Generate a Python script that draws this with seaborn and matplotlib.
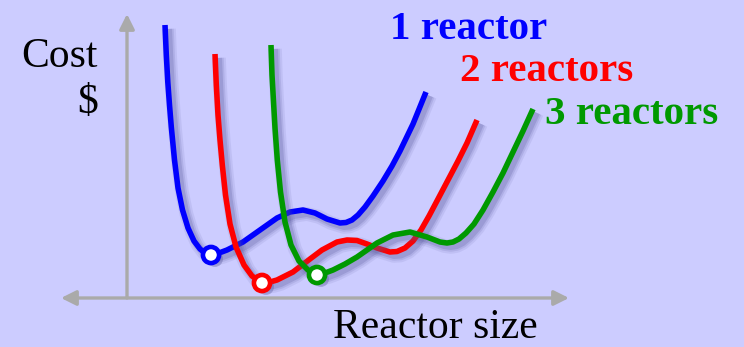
import matplotlib
matplotlib.use("Agg")
import matplotlib.pyplot as plt
import matplotlib.patheffects as pe
import pandas as pd
import seaborn as sns

# Cost curves versus reactor size (arbitrary units, origin at the axes corner)
blue_size = [38, 39.3, 40.8, 42.5, 44.3, 47.5, 51, 55.5, 61, 67, 73, 78, 84, 92, 100, 116, 133,
             150, 163, 176, 188, 200, 213, 219, 225, 231, 238, 246, 256, 265, 273, 286, 299]
blue_cost = [273, 243, 216, 193, 171, 138, 110, 88, 70, 57, 49, 45, 43, 45, 48, 56, 68,
             80, 86, 88, 85, 79, 75, 75.5, 78, 83, 91, 102, 117, 132, 147, 174, 206]

red_size = [88, 89.3, 91, 93, 95.3, 98.5, 103, 109, 117, 125, 135, 143, 150, 166, 183, 195, 210,
            220, 230, 240, 250, 263, 270, 278, 286, 294, 302, 311, 321, 331, 340, 350]
red_cost = [244, 213, 183, 158, 133, 103, 74, 51, 33, 22, 15, 16, 18, 26, 39, 48, 56,
            58, 57.5, 54, 50, 46, 46.5, 50, 57, 68, 82, 99, 118, 137, 155, 178]

green_size = [144, 145, 146.3, 148, 150.3, 153.5, 158, 164, 172, 181, 190, 198, 206, 218, 230, 250,
              266, 283, 300, 313, 320, 326, 332, 339, 347, 356, 366, 376, 386, 396, 406]
green_cost = [253, 223, 200, 170, 138, 106, 76, 53, 37, 28, 23, 25, 28, 34, 41, 55,
              63, 66, 61, 56, 55, 56, 59, 65, 74, 88, 106, 125, 146, 167, 189]

series_names = ["1 reactor", "2 reactors", "3 reactors"]
series_colors = ["#0000ff", "#ff0000", "#009900"]

# Optimal (minimum-cost) size for each configuration
opt_size = [84, 135, 190]
opt_cost = [43, 15, 23]

curves = pd.concat([
    pd.DataFrame({"size": blue_size, "cost": blue_cost, "series": series_names[0]}),
    pd.DataFrame({"size": red_size, "cost": red_cost, "series": series_names[1]}),
    pd.DataFrame({"size": green_size, "cost": green_cost, "series": series_names[2]}),
], ignore_index=True)
optima = pd.DataFrame({"size": opt_size, "cost": opt_cost, "series": series_names})

sns.set_style("white")
plt.rcParams["font.family"] = ["Liberation Serif", "DejaVu Serif"]

bg = "#ccccff"
fig = plt.figure(figsize=(7.44, 3.47), dpi=100, facecolor=bg)
ax = fig.add_axes([0, 0, 1, 1])
ax.set_facecolor(bg)
ax.set_xlim(-127, 617)
ax.set_ylim(-49, 298)
ax.axis("off")

axis_grey = "#aaaaaa"
ax.annotate("", xy=(0, 284), xytext=(0, 0),
            arrowprops=dict(arrowstyle="-|>,head_length=0.9,head_width=0.45",
                            color=axis_grey, lw=2.4, shrinkA=0, shrinkB=0))
ax.annotate("", xy=(-66, 0), xytext=(442, 0),
            arrowprops=dict(arrowstyle="<|-|>,head_length=0.9,head_width=0.45",
                            color=axis_grey, lw=2.4, shrinkA=0, shrinkB=0))

palette = dict(zip(series_names, series_colors))

shadow_col = "#55559a"
shadow = [
    pe.SimpleLineShadow(offset=(2.8, -2.8), shadow_color=shadow_col, alpha=0.10, linewidth=10),
    pe.SimpleLineShadow(offset=(2.8, -2.8), shadow_color=shadow_col, alpha=0.15, linewidth=7),
    pe.SimpleLineShadow(offset=(2.8, -2.8), shadow_color=shadow_col, alpha=0.22, linewidth=4.5),
    pe.Normal(),
]

sns.lineplot(data=curves, x="size", y="cost", hue="series", palette=palette,
             sort=False, estimator=None, linewidth=4, legend=False, ax=ax)
for line in ax.get_lines():
    line.set_solid_capstyle("butt")
    line.set_solid_joinstyle("round")
    line.set_path_effects(shadow)

sns.scatterplot(data=optima, x="size", y="cost", hue="series", palette=palette,
                s=135, facecolor="white", linewidth=3.3, legend=False, ax=ax, zorder=5)
pts = ax.collections[-1]
pts.set_facecolor("white")
pts.set_edgecolor(series_colors)
pts.set_path_effects([
    pe.SimplePatchShadow(offset=(2.8, -2.8), shadow_rgbFace=shadow_col, alpha=0.35),
    pe.Normal(),
])

label_pos = [(263, 259), (333, 217), (418, 174)]
for name, color, (x, y) in zip(series_names, series_colors, label_pos):
    ax.text(x, y, name, color=color, fontsize=29.5, fontweight="bold",
            ha="left", va="baseline")

ax.text(-29, 231, "Cost", fontsize=30, ha="right", va="baseline", color="black")
ax.text(-29, 185, "$", fontsize=30, ha="right", va="baseline", color="black")
ax.text(308, -40.5, "Reactor size", fontsize=30, ha="center", va="baseline", color="black")

fig.savefig("out.png", dpi=100, facecolor=bg)
